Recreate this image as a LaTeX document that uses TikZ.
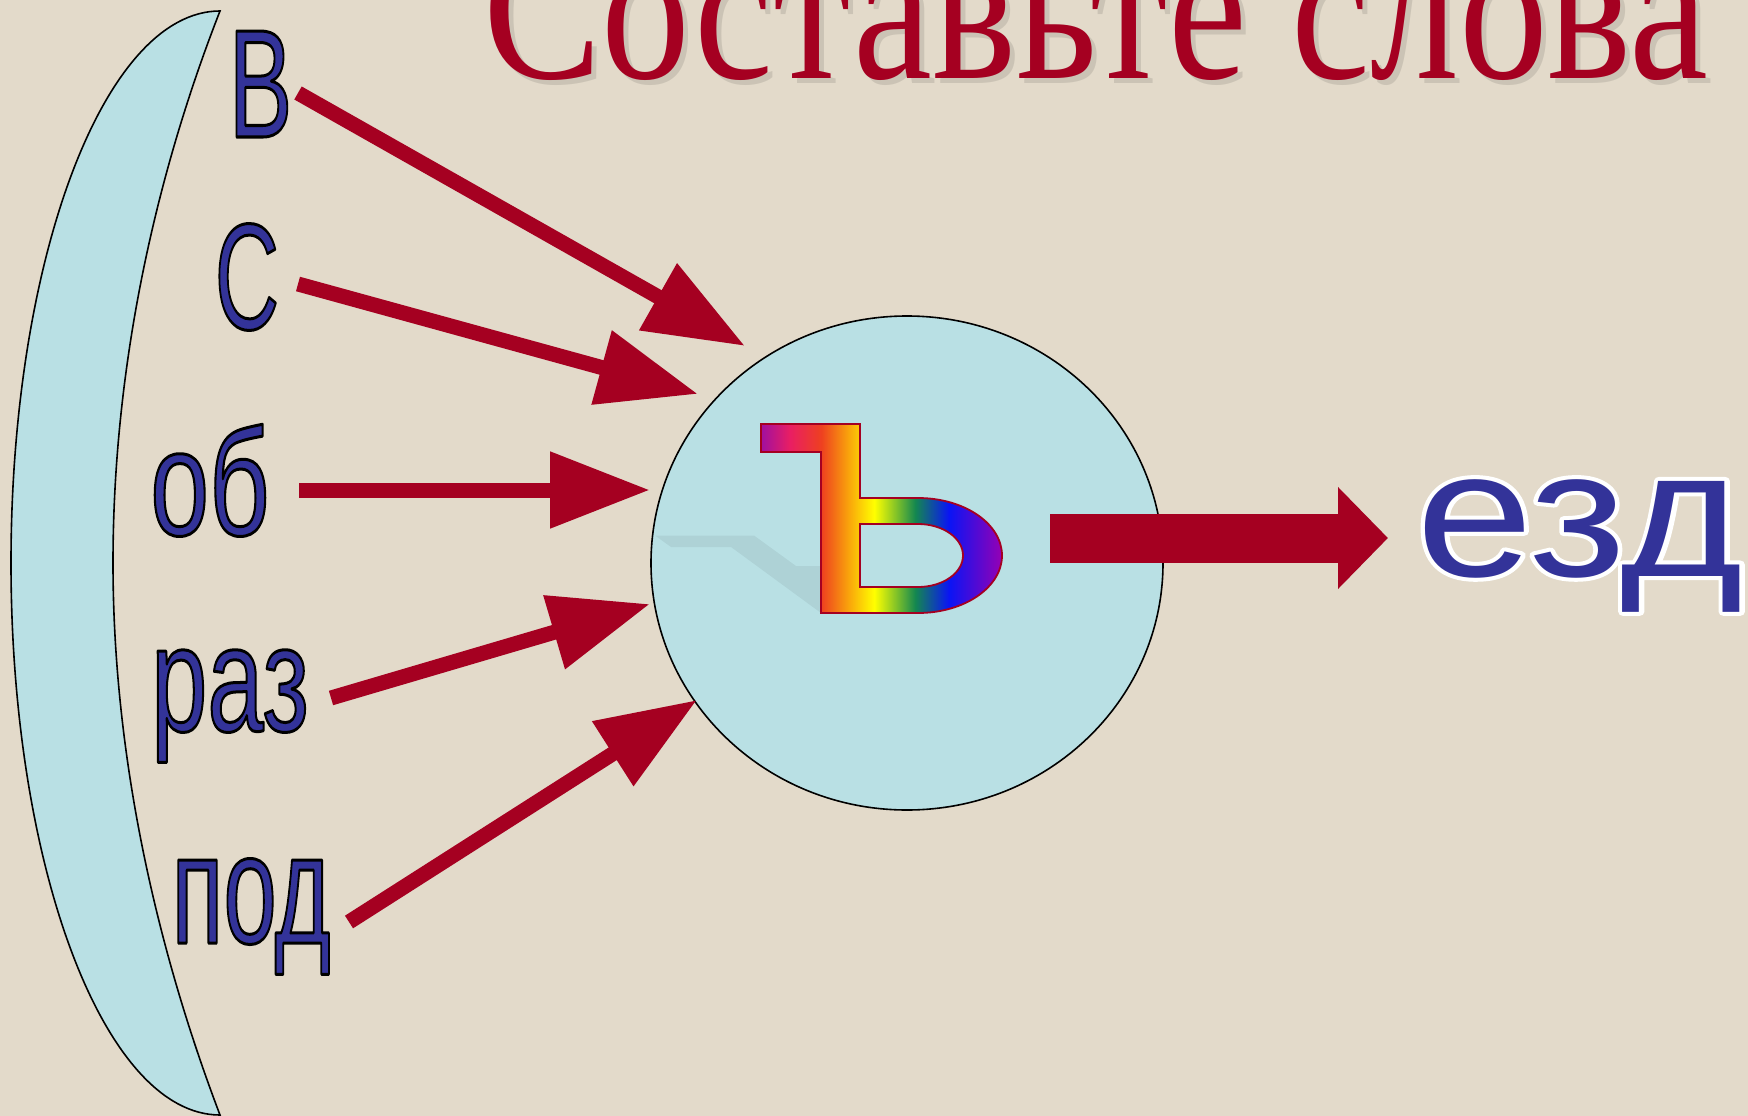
\documentclass[tikz,border=0pt]{standalone}
\usepackage{fontspec}
\setmainfont{Liberation Serif}
\newfontfamily\arialf{Liberation Sans}
\usetikzlibrary{arrows.meta,shapes.geometric}
\definecolor{bg}{RGB}{227,218,202}
\definecolor{navy}{RGB}{51,51,153}
\definecolor{wine}{RGB}{165,0,33}
\definecolor{pale}{RGB}{185,224,228}
\definecolor{rbA}{RGB}{160,16,160}
\definecolor{rbB}{RGB}{233,30,99}
\definecolor{rbC}{RGB}{238,64,32}
\definecolor{rbD}{RGB}{250,170,10}
\definecolor{rbE}{RGB}{255,255,0}
\definecolor{rbF}{RGB}{130,195,40}
\definecolor{rbG}{RGB}{20,135,80}
\definecolor{rbH}{RGB}{10,20,245}
\definecolor{rbI}{RGB}{150,0,180}
\pgfdeclarehorizontalshading{rainbowx}{100bp}{color(0bp)=(rbA); color(25bp)=(rbA); color(31bp)=(rbB); color(37.5bp)=(rbC); color(43.5bp)=(rbD); color(48.5bp)=(rbE); color(53bp)=(rbF); color(57bp)=(rbG); color(64bp)=(rbH); color(75bp)=(rbI); color(100bp)=(rbI)}
\tikzset{
  wordbox/.style={inner sep=0pt, outer sep=0pt, anchor=base},
  smallarr/.style={draw=wine, line width=15pt, -{Triangle[length=100pt,width=73pt]}},
  bigarr/.style={draw=wine, line width=49pt, -{Triangle[length=50pt,width=99pt]}},
  paleshape/.style={fill=pale, draw=black, line width=1.6pt}
}
% outlined text: stroke width, stroke rgb, text
\newcommand\strk[3]{\special{pdf:literal direct 2 Tr 1 j #1 w #2 RG}#3\special{pdf:literal direct 0 Tr}}
\newcommand\pfx[3]{\scalebox{#2}[1]{\arialf\fontsize{#1pt}{#1pt}\selectfont\strk{3}{0 0 0}{#3}}}
\newcommand\rootword{\scalebox{1.17}[1]{\arialf\fontsize{180pt}{180pt}\selectfont езд}}
\begin{document}
\begin{tikzpicture}[x=1pt,y=-1pt]
\useasboundingbox (0,0) rectangle (1748,1116);
\clip (0,0) rectangle (1748,1116);
\fill[bg] (0,0) rectangle (1748,1116);

% title with its soft shadow
\node[anchor=base west, inner sep=0pt, text=black, opacity=0.10] (titleshadow) at (488,83)
  {\resizebox{1225pt}{\height}{\fontsize{210pt}{210pt}\selectfont Составьте слова}};
\node[anchor=base west, inner sep=0pt, text=wine] (title) at (483,78)
  {\resizebox{1225pt}{\height}{\fontsize{210pt}{210pt}\selectfont Составьте слова}};

% crescent
\path[paleshape] (220,11) arc[start angle=-90, end angle=-270, x radius=209, y radius=552]
  .. controls (152,936) and (113,746) .. (113,563)
  .. controls (113,380) and (150,190) .. (220,11) -- cycle;

% prefixes
\node[wordbox, text=navy] (pv) at (260.5,137) {\pfx{154}{0.62}{В}};
\node[wordbox, text=navy] (ps) at (247,329) {\pfx{151}{0.59}{С}};
\node[wordbox, text=navy] (pob) at (210,535) {\pfx{151}{0.70}{об}};
\node[wordbox, text=navy] (praz) at (230,731) {\pfx{151}{0.67}{раз}};
\node[wordbox, text=navy] (ppod) at (251,943) {\pfx{157}{0.61}{под}};

% circle
\node[ellipse, paleshape, minimum width=512pt, minimum height=494pt, inner sep=0pt] (ring) at (907,563) {};

% shadow of the hard sign
\fill[black, opacity=0.06] (655,535.5) -- (754,535.5) -- (796,566) -- (854,566)
  .. controls (900,566) and (970,575) .. (969.5,589)
  .. controls (969,603) and (950,613) .. (918,613)
  -- (821,613) -- (731,547) -- (671,547) -- cycle;

% hard sign
\path[shading=rainbowx, draw=wine, line width=1.8pt]
  (761,424) -- (860,424) -- (860,498) -- (918,498)
  arc[start angle=-90, end angle=90, x radius=84, y radius=57.5]
  -- (821,613) -- (821,452) -- (761,452) -- cycle;
\path[fill=pale, draw=wine, line width=1.8pt]
  (860,524) -- (918,524)
  arc[start angle=-90, end angle=90, x radius=45, y radius=31.5]
  -- (860,587) -- cycle;

% arrow ends
\coordinate (avs) at (298,93);   \coordinate (avt) at (745,346);
\coordinate (ass) at (298,284);  \coordinate (ast) at (698,394);
\coordinate (aos) at (299,490);  \coordinate (aot) at (650,490);
\coordinate (ars) at (331,698);  \coordinate (art) at (650,604);
\coordinate (aps) at (349,922);  \coordinate (apt) at (697,700);
\coordinate (bgs) at (1050,538); \coordinate (bgt) at (1388,538);

\draw[smallarr] (avs) -- (avt);
\draw[smallarr] (ass) -- (ast);
\draw[smallarr] (aos) -- (aot);
\draw[smallarr] (ars) -- (art);
\draw[smallarr] (aps) -- (apt);
\draw[bigarr] (bgs) -- (bgt);

% root: white halo beneath, navy letters on top
\node[wordbox, text=white] (roothalo) at (1580,576)
  {\scalebox{1.17}[1]{\arialf\fontsize{180pt}{180pt}\selectfont\strk{8}{1 1 1}{езд}}};
\node[wordbox, text=navy] (root) at (1580,576) {\rootword};
\end{tikzpicture}
\end{document}
